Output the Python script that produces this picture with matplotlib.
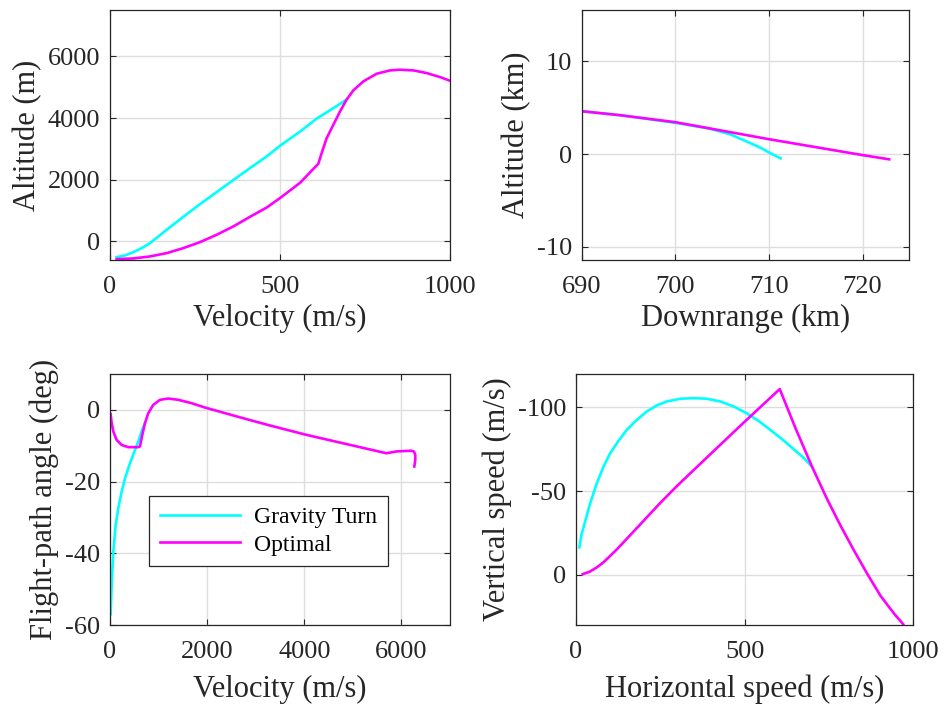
"""
Gravity turn vs optimal trajectory comparison (four panels)
"""
import matplotlib
matplotlib.use("Agg")
import matplotlib.pyplot as plt

plt.rcParams['font.family'] = ['Liberation Serif', 'DejaVu Serif']
plt.rcParams['axes.unicode_minus'] = False

CYAN = '#00FFFF'
MAGENTA = '#FF00FF'
DARK = '#262626'

# Altitude (m) vs velocity (m/s)
gt_vel = [19.6, 44.1, 68.6, 93.1, 117.6, 166.7, 215.7, 264.7, 313.7, 362.7, 411.8,
          460.8, 500, 558.8, 607.8, 656.9, 696.1]
gt_alt = [-507, -453, -345, -215, -53, 379, 800, 1210, 1600, 1990, 2378,
          2756, 3102, 3560, 3980, 4320, 4600]
opt_vel = [19.6, 68.6, 117.6, 166.7, 215.7, 264.7, 313.7, 362.7, 411.8, 460.8, 500,
           558.8, 612.7, 622.5, 637.3, 656.9, 676.5, 696.1, 715.7, 745.1, 784.3,
           823.5, 852.9, 892.2, 931.4, 970.6, 1000]
opt_alt = [-571, -550, -485, -377, -215, -21, 217, 487, 800, 1100, 1406,
           1900, 2518, 2864, 3350, 3782, 4214, 4600, 4895, 5187, 5435,
           5543, 5565, 5543, 5457, 5327, 5208]

# Altitude (km) vs downrange (km)
gt_range = [690, 694.1, 700, 703.6, 705.9, 707.7, 709.1, 710.2, 711.25]
gt_alt_km = [4.61, 4.18, 3.36, 2.75, 2.11, 1.32, 0.68, 0.07, -0.46]
opt_range = [690, 694.1, 700, 710, 720, 722.85]
opt_alt_km = [4.61, 4.18, 3.43, 1.6, -0.11, -0.57]

# Flight-path angle (deg) vs velocity (m/s)
gt_vel2 = [14, 34, 69, 117, 171, 240, 309, 411, 514, 583, 651, 686, 720]
gt_fpa = [-57.0, -48.8, -39.5, -32.1, -27.4, -22.8, -19.1, -14.9, -11.2, -8.8, -6.05, -4.7, -3.7]
opt_vel2 = [14, 34, 69, 137, 240, 377, 583, 617, 665, 720, 789, 891, 1029, 1200, 1406,
            1680, 1955, 2743, 3291, 4046, 5692, 5898, 6200, 6255, 6285, 6285, 6265]
opt_fpa = [-1.2, -3.7, -6.05, -8.4, -9.8, -10.4, -10.4, -10.2, -7.0, -3.7, -0.9, 1.4, 2.8,
           3.16, 2.8, 1.86, 0.65, -2.33, -4.35, -6.98, -12.1, -11.6, -11.4, -11.6, -12.5,
           -14.0, -15.8]

# Vertical speed vs horizontal speed (m/s)
gt_hs = [9.9, 16.8, 26.7, 41.6, 61.4, 81.2, 101, 125.8, 150.5, 180.2, 209.9, 239.7,
         269.4, 309, 348.6, 388.2, 427.8, 467.4, 507, 546.6, 586.2, 616, 645.7, 675.4, 700.1]
gt_vs = [-16.4, -24.4, -31.5, -42.5, -54.5, -64.5, -72.5, -80.0, -86.6, -92.6, -97.6,
         -101.2, -103.6, -105.2, -105.6, -105.2, -103.6, -100.6, -96.4, -91.2, -85.0,
         -80.2, -75.0, -69.8, -64.5]
opt_hs = [20, 40, 60, 80, 101, 125, 150, 200, 250, 300, 400, 500, 604,
          650, 700, 745, 784, 824, 864, 903, 943, 970]
opt_vs = [-0.4, -1.8, -4.2, -7.2, -11.2, -16, -21.4, -32.2, -43, -53.2, -72.4, -91.5, -111,
          -88, -64.5, -45, -29.5, -14.6, -0.4, 12.6, 23.2, 29.5]


def style_axes(ax, xlabelpad):
    ax.grid(True, color='#dedede', linewidth=1.0)
    ax.set_axisbelow(True)
    ax.tick_params(direction='in', length=4, width=0.8, top=True, right=True,
                   labelsize=19, colors=DARK, pad=7)
    ax.tick_params(axis='x', pad=11.5)
    ax.xaxis.labelpad = xlabelpad
    for s in ax.spines.values():
        s.set_color(DARK)
        s.set_linewidth(0.9)


fig = plt.figure(figsize=(9.45, 7.07), dpi=100)
W, H = 945.0, 707.0

def add_ax(x0, x1, y0, y1):
    return fig.add_axes([x0 / W, 1 - y1 / H, (x1 - x0) / W, (y1 - y0) / H])

ax1 = add_ax(110, 450, 10, 260)
ax2 = add_ax(581.7, 909.3, 10, 260)
ax3 = add_ax(110, 450, 374, 625)
ax4 = add_ax(576, 913.3, 374, 625)

lw = 1.9
lab = dict(fontsize=22, color=DARK)

# Panel 1
ax1.plot(gt_vel, gt_alt, color=CYAN, lw=lw)
ax1.plot(opt_vel, opt_alt, color=MAGENTA, lw=lw)
ax1.set_xlim(0, 1000)
ax1.set_ylim(-600, 7500)
ax1.set_xticks([0, 500, 1000])
ax1.set_yticks([0, 2000, 4000, 6000])
ax1.set_xlabel('Velocity (m/s)', **lab)
ax1.set_ylabel('Altitude (m)', **lab)

# Panel 2
ax2.plot(gt_range, gt_alt_km, color=CYAN, lw=lw)
ax2.plot(opt_range, opt_alt_km, color=MAGENTA, lw=lw)
ax2.set_xlim(690, 725)
ax2.set_ylim(-11.4, 15.5)
ax2.set_xticks([690, 700, 710, 720])
ax2.set_yticks([-10, 0, 10])
ax2.set_xlabel('Downrange (km)', **lab)
ax2.set_ylabel('Altitude (km)', **lab)

# Panel 3
ax3.plot(gt_vel2, gt_fpa, color=CYAN, lw=lw, label='Gravity Turn')
ax3.plot(opt_vel2, opt_fpa, color=MAGENTA, lw=lw, label='Optimal')
ax3.set_xlim(0, 7000)
ax3.set_ylim(-60, 10)
ax3.set_xticks([0, 2000, 4000, 6000])
ax3.set_yticks([-60, -40, -20, 0])
ax3.set_xlabel('Velocity (m/s)', **lab)
ax3.set_ylabel('Flight-path angle (deg)', **lab)
leg = ax3.legend(loc='upper left', bbox_to_anchor=(0.1156, 0.514), fontsize=17,
                 fancybox=False, framealpha=1, edgecolor=DARK, handlelength=3.4,
                 handletextpad=0.6, borderpad=0.45, labelspacing=0.25,
                 borderaxespad=0)
leg.get_frame().set_linewidth(0.9)

# Panel 4
ax4.plot(gt_hs, gt_vs, color=CYAN, lw=lw)
ax4.plot(opt_hs, opt_vs, color=MAGENTA, lw=lw)
ax4.set_xlim(0, 1000)
ax4.set_ylim(30, -120)
ax4.set_xticks([0, 500, 1000])
ax4.set_yticks([-100, -50, 0])
ax4.set_xlabel('Horizontal speed (m/s)', **lab)
ax4.set_ylabel('Vertical speed (m/s)', **lab)

for ax in (ax1, ax2):
    style_axes(ax, 4)
for ax in (ax3, ax4):
    style_axes(ax, 8.5)

fig.savefig('out.png', dpi=100)
